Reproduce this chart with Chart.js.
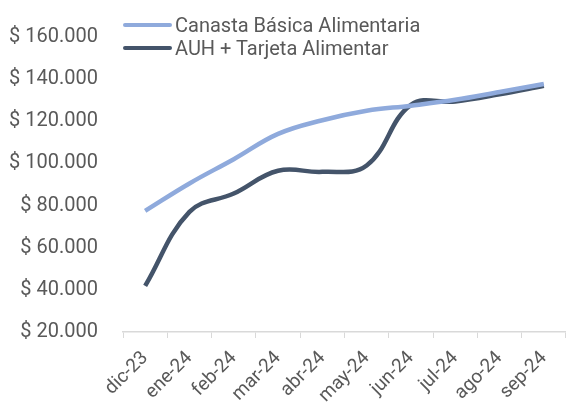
<!DOCTYPE html>
<html>
<head>
<meta charset="utf-8">
<script src="https://cdn.jsdelivr.net/npm/chart.js"></script>
<style>
  body { margin: 0; background: #fff; }
  #wrap { position: relative; width: 566px; height: 403px; }
  #legend { position: absolute; left: 123px; top: 13px; font-family: Roboto, sans-serif; font-size: 20px; color: #595959; }
  .item { display: flex; align-items: center; height: 23px; }
  .swatch { width: 49px; height: 4px; border-radius: 2px; margin-right: 3px; }
</style>
</head>
<body>
<div id="wrap">
  <canvas id="chart" width="566" height="403"></canvas>
  <div id="legend"></div>
</div>
<script>
// months on the x axis
var months = ['dic-23', 'ene-24', 'feb-24', 'mar-24', 'abr-24', 'may-24', 'jun-24', 'jul-24', 'ago-24', 'sep-24'];

// series (pesos)
var canastaBasica = [77500, 90500, 102000, 114000, 120500, 125000, 127400, 130200, 133900, 137700];
var auhTarjeta = [41900, 77000, 85700, 96500, 96000, 99000, 127800, 129400, 132800, 136800];

var seriesNames = ['Canasta Básica Alimentaria', 'AUH + Tarjeta Alimentar'];
var seriesColors = ['#8FAADC', '#44546A'];

var textColor = '#595959';

var ctx = document.getElementById('chart').getContext('2d');
var chart = new Chart(ctx, {
    type: 'line',
    data: {
        labels: months,
        datasets: [
            { label: seriesNames[0], data: canastaBasica, borderColor: seriesColors[0], borderWidth: 4.5, pointRadius: 0, tension: 0.4, fill: false },
            { label: seriesNames[1], data: auhTarjeta, borderColor: seriesColors[1], borderWidth: 4.5, pointRadius: 0, tension: 0.4, fill: false }
        ]
    },
    options: {
        responsive: false,
        animation: false,
        layout: { padding: { top: 37, right: 0, bottom: 0, left: 0 } },
        plugins: {
            legend: { display: false },
            tooltip: { enabled: false }
        },
        scales: {
            x: {
                offset: true,
                grid: { offset: true, drawOnChartArea: false, color: '#D9D9D9', tickLength: 6 },
                border: { color: '#D9D9D9', width: 1.5 },
                ticks: { color: textColor, font: { family: 'Roboto', size: 19 }, minRotation: 45, maxRotation: 45, padding: 9 },
                afterFit: function (scale) {
                    scale.height = 71;
                    scale.paddingLeft = 0;
                    scale.paddingRight = 0;
                }
            },
            y: {
                min: 20000,
                max: 160000,
                grid: { display: false, drawTicks: false },
                border: { display: false },
                ticks: {
                    stepSize: 20000,
                    color: textColor,
                    padding: 25,
                    font: { family: 'Roboto', size: 20 },
                    callback: function (v) { return '$ ' + v.toLocaleString('de-DE'); }
                },
                afterFit: function (scale) {
                    scale.width = 123;
                    scale.paddingTop = 0;
                    scale.paddingBottom = 0;
                }
            }
        }
    }
});

// legend as html text, stacked like the original
var legend = document.getElementById('legend');
chart.data.datasets.forEach(function (ds) {
    var row = document.createElement('div');
    row.className = 'item';
    row.innerHTML = '<span class="swatch" style="background:' + ds.borderColor + '"></span>' + ds.label;
    legend.appendChild(row);
});
</script>
</body>
</html>
